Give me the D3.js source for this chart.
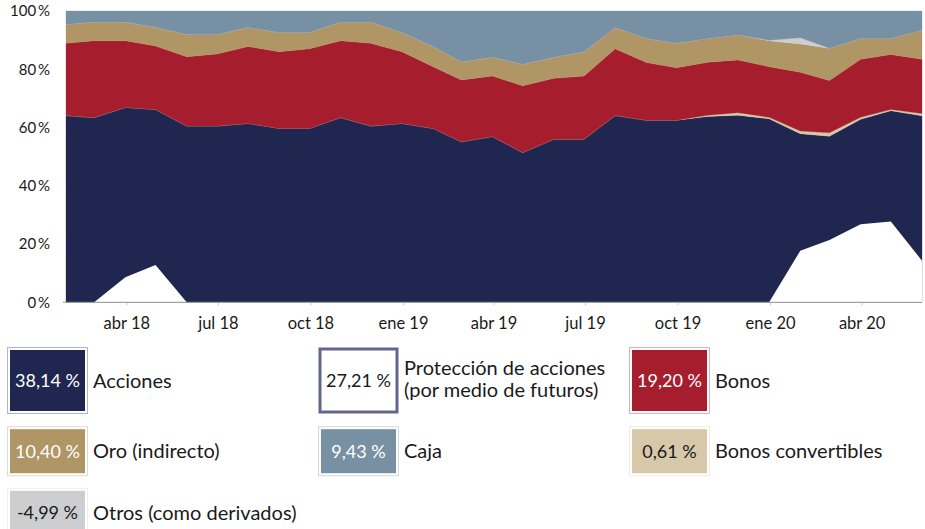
<!DOCTYPE html>
<html>
<head>
<meta charset="utf-8">
<script src="https://cdn.jsdelivr.net/npm/d3@7"></script>
<style>
  body { margin: 0; background: #fff; }
  text { font-family: Lato, "Open Sans", sans-serif; }
</style>
</head>
<body>
<div id="chart"></div>
<script>
// month-end dates, ene 2018 .. may 2020
const fechas = d3.timeMonth.range(new Date(2018, 1, 1), new Date(2020, 5, 2)).map(d => d3.timeDay.offset(d, -1));

// shares of the portfolio in %
const acciones     = [64.1,63.4,66.9,66.2,60.5,60.5,61.4,59.7,59.7,63.4,60.5,61.4,59.7,55.1,56.9,51.4,56.0,56.0,64.1,62.5,62.5,63.8,64.2,63.0,57.9,57.0,62.8,65.8,64.0];
const convertibles = [0,0,0,0,0,0,0,0,0,0,0,0,0,0,0,0,0,0,0,0,0,0.4,0.9,0.5,0.9,1.2,0.7,0.4,0.8];
const bonos        = [24.8,26.4,22.9,21.8,23.8,24.7,26.4,26.3,27.3,26.4,28.4,24.6,21.2,21.2,20.8,22.9,20.9,21.7,22.9,19.8,18.0,18.2,18.1,17.4,20.2,17.9,19.9,18.9,18.6];
const oro          = [6.5,6.4,6.4,6.4,7.6,6.7,6.6,6.6,5.6,6.4,7.3,6.6,6.9,6.3,6.4,7.4,7.2,8.3,7.3,8.3,8.4,8.2,8.6,8.9,9.7,11.1,7.2,5.5,10.1];
const otros        = [0,0,0,0,0,0,0,0,0,0,0,0,0,0,0,0,0,0,0,0,0,0,0,0.2,2.1,0,0,0,0];
const caja         = [4.6,3.8,3.8,5.6,8.1,8.1,5.6,7.4,7.4,3.8,3.8,7.4,12.2,17.4,15.9,18.3,15.9,14.0,5.7,9.4,11.1,9.4,8.2,10.0,9.2,12.8,9.4,9.4,6.5];
const proteccion   = [0,0,8.6,12.8,0,0,0,0,0,0,0,0,0,0,0,0,0,0,0,0,0,0,0,0,17.7,21.4,26.8,27.7,14.3];

const mesesEs = ["ene","feb","mar","abr","may","jun","jul","ago","sep","oct","nov","dic"];
const yTicks = [0, 20, 40, 60, 80, 100];

// legend
const legendLabels = [["Acciones"], ["Protección de acciones", "(por medio de futuros)"], ["Bonos"],
                      ["Oro (indirecto)"], ["Caja"], ["Bonos convertibles"], ["Otros (como derivados)"]];
const legendValues = ["38,14 %", "27,21 %", "19,20 %", "10,40 %", "9,43 %", "0,61 %", "-4,99 %"];

const colors = {
  acciones: "#1f2750",
  convertibles: "#d6c8a9",
  bonos: "#a61e2e",
  oro: "#b09565",
  otros: "#cdcecf",
  caja: "#7890a3"
};
const legendFill = [colors.acciones, "#fff", colors.bonos, colors.oro, colors.caja, colors.convertibles, colors.otros];
const legendText = ["#fff", "#1a1a1a", "#fff", "#fff", "#fff", "#1a1a1a", "#1a1a1a"];

const W = 925, H = 529;
const svg = d3.select("#chart").append("svg")
  .attr("width", W).attr("height", H);

const x = d3.scaleTime()
  .domain([fechas[0], fechas[fechas.length - 1]])
  .range([66, 922]);
const y = d3.scaleLinear().domain([0, 100]).range([302.3, 11]);

const keys = ["acciones", "convertibles", "bonos", "oro", "otros", "caja"];
const series = { acciones, convertibles, bonos, oro, otros, caja };
const tabla = fechas.map((f, i) => {
  const row = { fecha: f };
  keys.forEach(k => row[k] = series[k][i]);
  return row;
});

const stacked = d3.stack().keys(keys)(tabla);

const area = d3.area()
  .x(d => x(d.data.fecha))
  .y0(d => y(d[0]))
  .y1(d => y(d[1]));

svg.append("g")
  .selectAll("path")
  .data(stacked)
  .join("path")
    .attr("d", area)
    .attr("fill", d => colors[d.key])
    .attr("stroke", d => colors[d.key])
    .attr("stroke-width", 0.3);

// protection drawn as white over the equity area
const areaProt = d3.area()
  .x((d, i) => x(fechas[i]))
  .y0(y(0))
  .y1(d => y(d));

svg.append("path")
  .datum(proteccion)
  .attr("d", areaProt)
  .attr("fill", "#fff");

// x axis
const xTicks = d3.timeMonth.every(3).range(new Date(2018, 3, 1), new Date(2020, 4, 1));
const xAxis = svg.append("g")
  .attr("transform", `translate(0, ${y(0)})`)
  .call(d3.axisBottom(x)
    .tickValues(xTicks)
    .tickSize(3)
    .tickPadding(12)
    .tickFormat(d => mesesEs[d.getMonth()] + " " + String(d.getFullYear()).slice(2)));
xAxis.select(".domain").remove();
xAxis.append("line")
  .attr("x1", 63).attr("x2", 922)
  .attr("stroke", "#9a9a9a").attr("stroke-width", 1);
xAxis.selectAll(".tick line").attr("stroke", "#c8c8c8");
xAxis.selectAll(".tick text")
  .attr("fill", "#1a1a1a")
  .style("font-size", "16.5px");

// y axis
const yAxis = svg.append("g")
  .attr("transform", "translate(66, 0)")
  .call(d3.axisLeft(y)
    .tickValues(yTicks)
    .tickSize(0)
    .tickPadding(16)
    .tickFormat(d => d + "\u2009%"));
yAxis.select(".domain").remove();
yAxis.selectAll(".tick text")
  .attr("fill", "#1a1a1a")
  .style("font-size", "15px");

// legend boxes
const colX = [7.5, 318.5, 629.5];
const rowY = [347.5, 426.7, 488.3];
const rowH = [66, 49, 49];

const leg = svg.append("g")
  .selectAll("g")
  .data(legendLabels)
  .join("g")
    .attr("transform", (d, i) => `translate(${colX[i % 3]}, ${rowY[Math.floor(i / 3)]})`);

leg.each(function (d, i) {
  const g = d3.select(this);
  const h = rowH[Math.floor(i / 3)];
  if (i === 1) {
    g.append("rect")
      .attr("x", 1.5).attr("y", 1.5)
      .attr("width", 77).attr("height", h - 3)
      .attr("fill", "#fff")
      .attr("stroke", "#62668a")
      .attr("stroke-width", 3);
  } else {
    g.append("rect")
      .attr("x", 0).attr("y", 0)
      .attr("width", 80).attr("height", h)
      .attr("fill", "#fff")
      .attr("stroke", legendFill[i])
      .attr("stroke-opacity", 0.35)
      .attr("stroke-width", 1);
    g.append("rect")
      .attr("x", 2.5).attr("y", 2.5)
      .attr("width", 75).attr("height", h - 5)
      .attr("fill", legendFill[i]);
  }
  g.append("text")
    .attr("x", 40)
    .attr("y", h / 2 + 6.5)
    .attr("text-anchor", "middle")
    .attr("fill", legendText[i])
    .style("font-size", "18px")
    .text(legendValues[i]);

  const lines = d;
  g.selectAll("text.lab")
    .data(lines)
    .join("text")
      .attr("class", "lab")
      .attr("x", 85.5)
      .attr("y", (t, j) => lines.length > 1 ? 27.5 + j * 22 : h / 2 + 7)
      .attr("fill", "#1a1a1a")
      .style("font-size", "20px")
      .text(t => t);
});
</script>
</body>
</html>
